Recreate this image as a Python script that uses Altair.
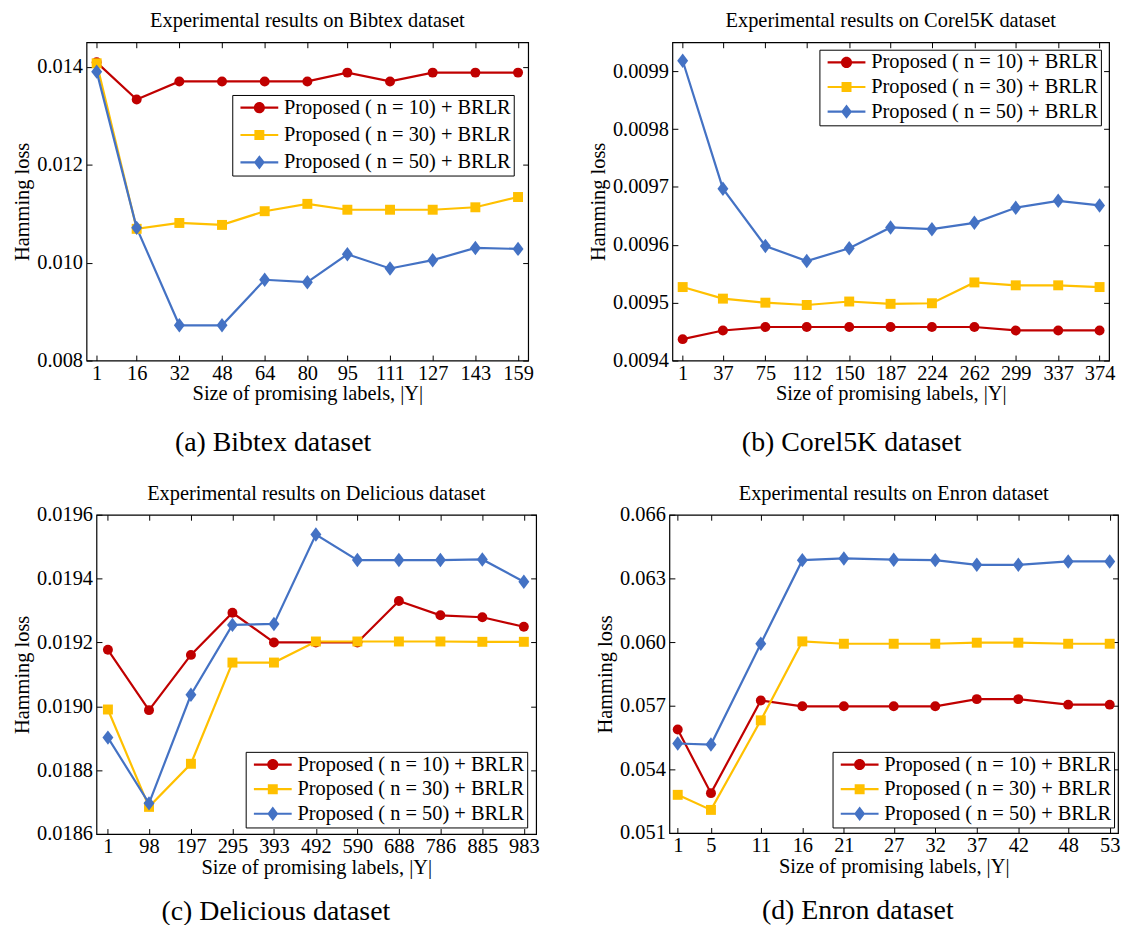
import altair as alt
import pandas as pd

FONT = "Liberation Serif"
FS = 20.5
SERIES = ["Proposed ( n = 10) + BRLR", "Proposed ( n = 30) + BRLR", "Proposed ( n = 50) + BRLR"]
COLORS = ["#C00000", "#FFC000", "#4472C4"]

# ---- data ----
bibtex_x = [1, 16, 32, 48, 64, 80, 95, 111, 127, 143, 159]
bibtex_n10 = [0.01409, 0.01333, 0.01370, 0.01370, 0.01370, 0.01370, 0.01388, 0.01370, 0.01388, 0.01388, 0.01388]
bibtex_n30 = [0.01407, 0.01069, 0.01081, 0.01077, 0.01105, 0.01120, 0.01108, 0.01108, 0.01108, 0.01113, 0.01134]
bibtex_n50 = [0.01390, 0.01071, 0.00872, 0.00872, 0.00965, 0.00960, 0.01017, 0.00988, 0.01005, 0.01030, 0.01028]

corel_x = [1, 37, 75, 112, 150, 187, 224, 262, 299, 337, 374]
corel_n10 = [0.009437, 0.009452, 0.009458, 0.009458, 0.009458, 0.009458, 0.009458, 0.009458, 0.009452, 0.009452, 0.009452]
corel_n30 = [0.009527, 0.009507, 0.009500, 0.009496, 0.009502, 0.009498, 0.009499, 0.009535, 0.009530, 0.009530, 0.009527]
corel_n50 = [0.009918, 0.009697, 0.009598, 0.009572, 0.009594, 0.009630, 0.009627, 0.009638, 0.009664, 0.009676, 0.009668]

delicious_x = [1, 98, 197, 295, 393, 492, 590, 688, 786, 885, 983]
delicious_n10 = [0.019177, 0.018988, 0.019161, 0.019293, 0.019200, 0.019200, 0.019200, 0.019330, 0.019285, 0.019279, 0.019249]
delicious_n30 = [0.018990, 0.018685, 0.018820, 0.019137, 0.019137, 0.019203, 0.019203, 0.019203, 0.019203, 0.019202, 0.019202]
delicious_n50 = [0.018902, 0.018696, 0.019036, 0.019255, 0.019258, 0.019538, 0.019458, 0.019458, 0.019458, 0.019460, 0.019390]

enron_x = [1, 5, 11, 16, 21, 27, 32, 37, 42, 48, 53]
enron_n10 = [0.05588, 0.05288, 0.05725, 0.05697, 0.05697, 0.05697, 0.05697, 0.05731, 0.05731, 0.05705, 0.05705]
enron_n30 = [0.05280, 0.05209, 0.05631, 0.06003, 0.05992, 0.05992, 0.05992, 0.05997, 0.05997, 0.05992, 0.05992]
enron_n50 = [0.05522, 0.05517, 0.05992, 0.06386, 0.06394, 0.06388, 0.06386, 0.06364, 0.06364, 0.06380, 0.06380]

# marker shapes (plot) and legend symbols (line segment + marker), unit = 10 px
DIAMOND = "M0,-1.45L1.1,0L0,1.45L-1.1,0Z"
LINE = "M-1.9,-0.11L1.9,-0.11L1.9,0.11L-1.9,0.11Z"
LEG_SHAPES = [
    LINE + "M-0.56,0A0.56,0.56 0 1,1 0.56,0A0.56,0.56 0 1,1 -0.56,0Z",
    LINE + "M-0.5,-0.5L0.5,-0.5L0.5,0.5L-0.5,0.5Z",
    LINE + "M0,-0.72L0.55,0L0,0.72L-0.55,0Z",
]


def tick_axis(orient, offset, values):
    return alt.Axis(orient=orient, offset=offset, values=values, labels=False,
                    ticks=True, tickSize=5.5, tickColor="black", tickWidth=1,
                    domain=False, grid=False, title=None)


def panel(xs, ys_list, title, caption, xdom, ydom, yvals, yfmt, W, H, lx, ly, toff, rowpad, capoff):
    rows = []
    for s, ys in zip(SERIES, ys_list):
        for x, y in zip(xs, ys):
            rows.append({"size": x, "loss": y, "series": s})
    df = pd.DataFrame(rows)
    xsc = alt.Scale(domain=xdom, nice=False, zero=False)
    ysc = alt.Scale(domain=ydom, nice=False, zero=False)
    csc = alt.Scale(domain=SERIES, range=COLORS)
    main_x = alt.Axis(values=xs, labelFont=FONT, labelFontSize=FS, labelColor="black",
                      labelPadding=3, ticks=False, domain=False, grid=False,
                      labelFlush=False, labelOverlap=False,
                      title="Size of promising labels, |Y|", titleFont=FONT,
                      titleFontSize=FS, titleFontWeight="normal", titleColor="black",
                      titlePadding=0)
    main_y = alt.Axis(values=yvals, format=yfmt, labelFont=FONT, labelFontSize=FS,
                      labelColor="black", labelPadding=4, ticks=False, domain=False,
                      grid=False, labelFlush=False, labelOverlap=False,
                      title="Hamming loss", titleFont=FONT, titleFontSize=FS,
                      titleFontWeight="normal", titleColor="black", titlePadding=4)
    base = alt.Chart(df)
    line = base.mark_line(strokeWidth=2.2).encode(
        x=alt.X("size:Q", scale=xsc, axis=main_x),
        y=alt.Y("loss:Q", scale=ysc, axis=main_y),
        color=alt.Color("series:N", scale=csc, legend=None),
    )
    pts = base.mark_point(filled=True, opacity=1, size=100).encode(
        x=alt.X("size:Q", scale=xsc, axis=tick_axis("top", -H, xs)),
        y=alt.Y("loss:Q", scale=ysc, axis=tick_axis("right", -W, yvals)),
        color=alt.Color("series:N", scale=csc, legend=None),
        shape=alt.Shape("series:N", scale=alt.Scale(domain=SERIES, range=["circle", "square", DIAMOND]), legend=None),
    )
    leg = alt.Legend(title=None, orient="none", legendX=lx, legendY=ly,
                     fillColor="white", strokeColor="black", padding=2.5,
                     rowPadding=rowpad, labelFont=FONT, labelFontSize=FS, labelColor="black",
                     symbolSize=400, symbolStrokeWidth=0, symbolOffset=14.5,
                     labelOffset=14.5, labelLimit=400, cornerRadius=0,
                     labelExpr="datum.label + ' '")
    legl = base.transform_filter("false").mark_point(filled=True, opacity=1).encode(
        x=alt.X("size:Q", scale=xsc, axis=tick_axis("bottom", -H, xs)),
        y=alt.Y("loss:Q", scale=ysc, axis=tick_axis("left", -W, yvals)),
        color=alt.Color("series:N", scale=csc, legend=leg),
        shape=alt.Shape("series:N", scale=alt.Scale(domain=SERIES, range=LEG_SHAPES), legend=leg),
    )
    lay = alt.layer(line, pts, legl).resolve_scale(
        color="independent", shape="independent"
    ).resolve_axis(x="independent", y="independent").properties(
        width=W, height=H,
        title=alt.TitleParams(title, font=FONT, fontSize=FS, fontWeight="normal",
                              color="black", offset=toff, anchor="middle"),
    )
    return alt.vconcat(lay, title=alt.TitleParams(caption, orient="bottom", font=FONT,
                                                  fontSize=28, fontWeight="normal",
                                                  color="black", offset=capoff, anchor="middle"))


def spacer():
    return alt.Chart(pd.DataFrame({"v": [0]})).mark_point(opacity=0).encode(
        x=alt.X("v:Q", axis=None), y=alt.Y("v:Q", axis=None)
    ).properties(width=1, height=1, view=alt.ViewBackground(stroke="transparent"))


pa = panel(bibtex_x, [bibtex_n10, bibtex_n30, bibtex_n50],
           "Experimental results on Bibtex dataset", "(a) Bibtex dataset",
           [-2.8, 162.8], [0.008, 0.0145], [0.008, 0.010, 0.012, 0.014], ".3f",
           444, 320, 146.5, 53, 10, 6.5, 24)
pb = panel(corel_x, [corel_n10, corel_n30, corel_n50],
           "Experimental results on Corel5K dataset", "(b) Corel5K dataset",
           [-8.2, 382.5], [0.0094, 0.00995],
           [0.0094, 0.0095, 0.0096, 0.0097, 0.0098, 0.0099], ".4f",
           439, 320, 147.8, 7.5, 10, 3.75, 24)
pc = panel(delicious_x, [delicious_n10, delicious_n30, delicious_n50],
           "Experimental results on Delicious dataset", "(c) Delicious dataset",
           [-26, 1012], [0.0186, 0.0196],
           [0.0186, 0.0188, 0.0190, 0.0192, 0.0194, 0.0196], ".4f",
           442, 321, 150, 238.4, 0, 3.75, 20)
pd_ = panel(enron_x, [enron_n10, enron_n30, enron_n50],
            "Experimental results on Enron dataset", "(d) Enron dataset",
            [0, 54], [0.051, 0.066],
            [0.051, 0.054, 0.057, 0.060, 0.063, 0.066], ".3f",
            451, 320, 164, 238.4, 0, 3.75, 20)

chart = alt.vconcat(
    alt.hconcat(spacer(), alt.hconcat(pa, pb, spacing=54), spacing=0),
    alt.hconcat(spacer(), alt.hconcat(pc, pd_, spacing=55), spacing=0),
    spacing=26,
).properties(
    padding={"left": 5, "top": 8, "right": 0, "bottom": 0},
    background="white",
).configure_view(stroke="black", strokeWidth=1.2)

chart.save("out.html", embed_options={"renderer": "svg", "actions": False})
